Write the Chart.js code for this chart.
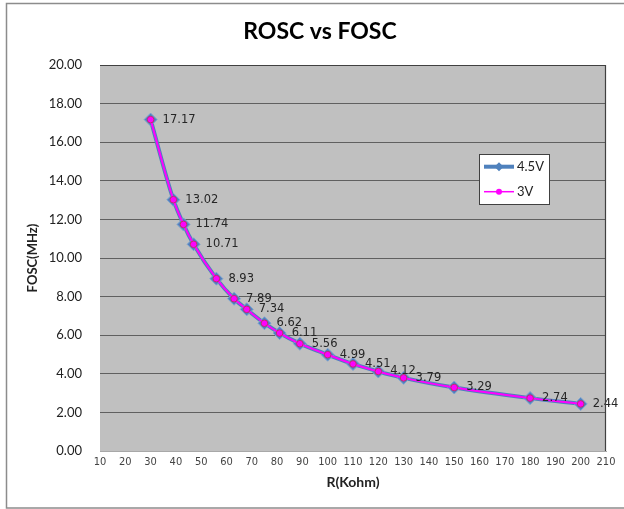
<!DOCTYPE html>
<html>
<head>
<meta charset="utf-8">
<script src="https://cdn.jsdelivr.net/npm/chart.js@4.4.0/dist/chart.umd.min.js"></script>
<style>
html,body{margin:0;padding:0;background:#fff;}
#wrap{width:624px;height:509px;position:relative;}
</style>
</head>
<body>
<div id="wrap"><canvas id="c" width="624" height="509"></canvas></div>
<script>
const chartTitle = 'ROSC vs FOSC';
const xTitle = 'R(Kohm)';
const yTitle = 'FOSC(MHz)';
const resistance = [30, 39, 43, 47, 56, 63, 68, 75, 81, 89, 100, 110, 120, 130, 150, 180, 200];
const fosc45 = [17.17, 13.02, 11.74, 10.71, 8.93, 7.89, 7.34, 6.62, 6.11, 5.56, 4.99, 4.51, 4.12, 3.79, 3.29, 2.74, 2.44];
const fosc3 = [17.17, 13.02, 11.74, 10.71, 8.93, 7.89, 7.34, 6.62, 6.11, 5.56, 4.99, 4.51, 4.12, 3.79, 3.29, 2.74, 2.44];
const seriesLabels = ['4.5V', '3V'];

const toPts = (xs, ys) => xs.map((x, i) => ({x: x, y: ys[i]}));

const framePlugin = {
  id: 'frame',
  beforeDraw(chart) {
    const ctx = chart.ctx;
    ctx.save();
    ctx.fillStyle = '#ffffff';
    ctx.fillRect(0, 0, chart.width, chart.height);
    ctx.strokeStyle = '#8c8c8c';
    ctx.lineWidth = 1.5;
    ctx.strokeRect(6.5, 3.5, 640, 504.5);
    const a = chart.chartArea;
    ctx.fillStyle = '#c0c0c0';
    ctx.fillRect(a.left, a.top, a.right - a.left, a.bottom - a.top);
    // title
    ctx.fillStyle = '#000000';
    ctx.font = 'bold 23px Lato';
    ctx.textAlign = 'center';
    ctx.textBaseline = 'middle';
    ctx.fillText(chartTitle, 320, 32);
    ctx.restore();
  },
  afterDraw(chart) {
    const ctx = chart.ctx;
    const a = chart.chartArea;
    ctx.save();
    ctx.strokeStyle = '#404040';
    ctx.lineWidth = 1.2;
    ctx.beginPath();
    ctx.moveTo(a.left, a.top + 0.5);
    ctx.lineTo(a.right - 0.5, a.top + 0.5);
    ctx.lineTo(a.right - 0.5, a.bottom);
    ctx.stroke();
    // legend
    const lx = 479.5, ly = 154.5, lw = 70, lh = 50;
    ctx.fillStyle = '#ffffff';
    ctx.fillRect(lx, ly, lw, lh);
    ctx.strokeStyle = '#404040';
    ctx.lineWidth = 1;
    ctx.strokeRect(lx, ly, lw, lh);
    const rows = [166.7, 191.7];
    chart.data.datasets.forEach((ds, i) => {
      const y = rows[i];
      ctx.strokeStyle = ds.borderColor;
      ctx.lineWidth = i === 0 ? 4 : 1.5;
      ctx.beginPath();
      ctx.moveTo(484, y);
      ctx.lineTo(514, y);
      ctx.stroke();
      ctx.fillStyle = ds.pointBackgroundColor;
      ctx.beginPath();
      if (i === 0) {
        ctx.moveTo(499, y - 4.5); ctx.lineTo(503.5, y); ctx.lineTo(499, y + 4.5); ctx.lineTo(494.5, y);
        ctx.closePath();
      } else {
        ctx.arc(499, y, 3, 0, Math.PI * 2);
      }
      ctx.fill();
      ctx.fillStyle = '#222222';
      ctx.font = '13px Lato';
      ctx.textAlign = 'left';
      ctx.textBaseline = 'middle';
      ctx.fillText(ds.label, 517, y + 0.5);
    });
    ctx.restore();
  }
};

const labelPlugin = {
  id: 'valueLabels',
  afterDatasetsDraw(chart) {
    const ctx = chart.ctx;
    const meta = chart.getDatasetMeta(0);
    const vals = chart.data.datasets[0].data;
    ctx.save();
    ctx.fillStyle = '#262626';
    ctx.font = '11.5px "DejaVu Sans"';
    ctx.textAlign = 'left';
    ctx.textBaseline = 'middle';
    meta.data.forEach((el, i) => {
      ctx.fillText(vals[i].y.toFixed(2), el.x + 12, el.y);
    });
    ctx.restore();
  }
};

new Chart(document.getElementById('c'), {
  type: 'line',
  data: {
    datasets: [
      {
        label: seriesLabels[0],
        data: toPts(resistance, fosc45),
        borderColor: '#4f81bd',
        borderWidth: 4,
        pointStyle: 'rectRot',
        pointRadius: 6.5,
        pointBackgroundColor: '#4f81bd',
        pointBorderColor: '#7ea3d0',
        pointBorderWidth: 1,
        cubicInterpolationMode: 'monotone',
        order: 1
      },
      {
        label: seriesLabels[1],
        data: toPts(resistance, fosc3),
        borderColor: '#ff00ff',
        borderWidth: 2,
        pointStyle: 'circle',
        pointRadius: 3.3,
        pointBackgroundColor: '#ff00ff',
        pointBorderColor: '#c0306a',
        pointBorderWidth: 1,
        cubicInterpolationMode: 'monotone',
        order: 0
      }
    ]
  },
  options: {
    responsive: false,
    animation: false,
    devicePixelRatio: 1,
    layout: {padding: {left: 0, right: 18, top: 65, bottom: 0}},
    plugins: {
      legend: {display: false},
      tooltip: {enabled: false},
      title: {display: false}
    },
    scales: {
      x: {
        type: 'linear',
        min: 10, max: 210,
        afterFit(s) { s.height = 58; },
        ticks: {
          stepSize: 10,
          padding: 5,
          color: '#444444',
          font: {family: '"Liberation Sans Narrow", "DejaVu Sans Condensed", "Liberation Sans"', size: 11},
          maxRotation: 0,
          autoSkip: false
        },
        grid: {display: false, drawTicks: false},
        border: {display: true, color: '#a8a8a8', width: 1},
        title: {
          display: true,
          text: xTitle,
          color: '#222222',
          font: {family: 'Lato', size: 14, weight: 'bold'},
          padding: {top: 0, bottom: 18}
        }
      },
      y: {
        type: 'linear',
        min: 0, max: 20,
        afterFit(s) { s.width = 100; },
        ticks: {
          stepSize: 2,
          padding: 18,
          color: '#222222',
          font: {family: 'Lato', size: 13},
          callback: v => v.toFixed(2)
        },
        grid: {display: true, drawTicks: false, color: '#606060', lineWidth: 1},
        border: {display: false},
        title: {
          display: true,
          text: yTitle,
          color: '#222222',
          font: {family: 'Lato', size: 13, weight: 'bold'},
          padding: {top: 25, bottom: 0}
        }
      }
    }
  },
  plugins: [framePlugin, labelPlugin]
});
</script>
</body>
</html>
